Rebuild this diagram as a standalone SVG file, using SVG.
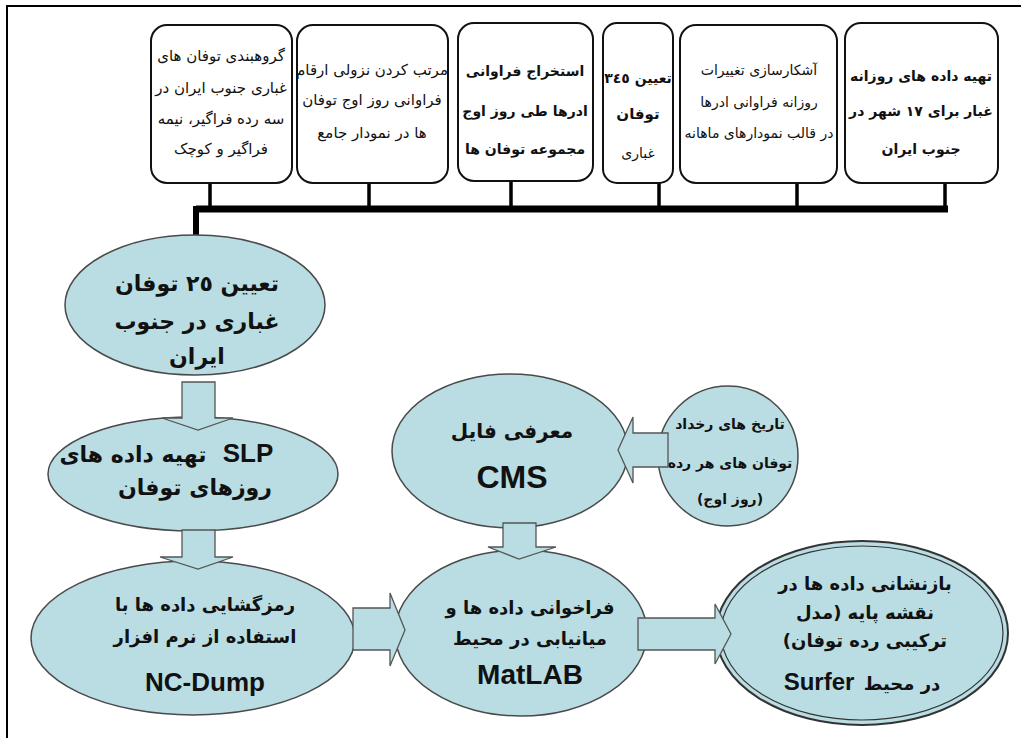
<svg xmlns="http://www.w3.org/2000/svg" width="1021" height="738" viewBox="0 0 1021 738">
<style>
.box{fill:#fff;stroke:#111;stroke-width:2}
.ell{fill:#b9dde3;stroke:#4a4a4a;stroke-width:1.5}
.arr{fill:#b9dde3;stroke:#555;stroke-width:1.3;stroke-linejoin:miter}
.fa{font-family:"DejaVu Sans",sans-serif;fill:#111;text-anchor:middle}
.bt{font-size:15px}
.bb{font-size:14px;font-weight:bold}
.big{font-size:22px;font-weight:bold}
.mid{font-size:18px;font-weight:bold}
.lat{font-family:"Liberation Sans",Arial,sans-serif;font-weight:bold;fill:#111;text-anchor:middle}
</style>
<rect x="0" y="0" width="1021" height="738" fill="#fff"/>
<path d="M7 738 V6 H1021" fill="none" stroke="#000" stroke-width="2"/>

<g id="connectors">
  <g stroke="#000" fill="none">
    <path d="M210 182 V209 M369 182 V209 M511 180 V209 M659 182 V209 M797 182 V209 M945 182 V209" stroke-width="3.5"/>
    <path d="M196 209 H948" stroke-width="7"/>
    <path d="M196 206 V236" stroke-width="6"/>
  </g>
</g>

<g id="box1"><rect class="box" x="151" y="25" width="141" height="158" rx="16"/>
<text class="fa bt" direction="rtl"><tspan x="221" y="61">گروهبندی توفان های</tspan><tspan x="221" y="93">غباری جنوب ایران در</tspan><tspan x="221" y="124">سه رده فراگیر، نیمه</tspan><tspan x="221" y="154">فراگیر و کوچک</tspan></text></g>
<g id="box2"><rect class="box" x="297" y="25" width="151" height="158" rx="16"/>
<text class="fa bt" direction="rtl"><tspan x="372" y="75">مرتب کردن نزولی ارقام</tspan><tspan x="372" y="105">فراوانی روز اوج توفان</tspan><tspan x="372" y="138">ها در نمودار جامع</tspan></text></g>
<g id="box3"><rect class="box" x="458" y="23" width="135" height="158" rx="16"/>
<text class="fa bb" direction="rtl"><tspan x="525" y="76">استخراج فراوانی</tspan><tspan x="525" y="116">ادرها طی روز اوج</tspan><tspan x="525" y="154">مجموعه توفان ها</tspan></text></g>
<g id="box4"><rect class="box" x="603" y="23" width="70" height="160" rx="14"/>
<text class="fa bb" direction="rtl"><tspan x="638" y="83">تعیین ٣٤٥</tspan><tspan x="638" y="119" style="font-size:15px">توفان</tspan><tspan x="638" y="158" style="font-weight:normal;font-size:14px">غباری</tspan></text></g>
<g id="box5"><rect class="box" x="680" y="25" width="157" height="158" rx="16"/>
<text class="fa" direction="rtl" style="font-size:14px"><tspan x="759" y="75">آشکارسازی تغییرات</tspan><tspan x="759" y="107">روزانه فراوانی ادرها</tspan><tspan x="759" y="138">در قالب نمودارهای ماهانه</tspan></text></g>
<g id="box6"><rect class="box" x="845" y="23" width="153" height="160" rx="16"/>
<text class="fa bb" direction="rtl"><tspan x="921" y="81">تهیه داده های روزانه</tspan><tspan x="921" y="116">غبار برای ١٧ شهر در</tspan><tspan x="921" y="154">جنوب ایران</tspan></text></g>

<g id="e1"><ellipse class="ell" cx="195" cy="305" rx="130" ry="70"/>
<text class="fa big" direction="rtl"><tspan x="197" y="291">تعیین ٢٥ توفان</tspan><tspan x="197" y="329">غباری  در جنوب</tspan><tspan x="197" y="364">ایران</tspan></text></g>
<g id="e2"><ellipse class="ell" cx="193" cy="474" rx="145" ry="57"/>
<text class="fa big" direction="rtl" x="133" y="462">تهیه داده های</text>
<text class="lat" x="248" y="462" font-size="26">SLP</text>
<text class="fa big" direction="rtl" x="195" y="495">روزهای توفان</text></g>
<g id="e3"><ellipse class="ell" cx="193" cy="638" rx="162" ry="77"/>
<text class="fa mid" direction="rtl"><tspan x="205" y="611">رمزگشایی داده ها با</tspan><tspan x="205" y="643">استفاده از نرم افزار</tspan></text>
<text class="lat" x="205" y="691" font-size="26">NC-Dump</text></g>
<g id="e6"><ellipse class="ell" cx="510" cy="451" rx="118" ry="77"/>
<text class="fa" direction="rtl" x="512" y="438" style="font-size:20px;font-weight:bold">معرفی فایل</text>
<text class="lat" x="512" y="488" font-size="32">CMS</text></g>
<g id="e7"><ellipse class="ell" cx="728" cy="456" rx="70" ry="70"/>
<text class="fa" direction="rtl" style="font-size:14px;font-weight:bold"><tspan x="730" y="429">تاریخ های رخداد</tspan><tspan x="730" y="468">توفان های هر رده</tspan><tspan x="730" y="504">(روز اوج)</tspan></text></g>
<g id="e4"><ellipse class="ell" cx="521" cy="633" rx="126" ry="83"/>
<text class="fa mid" direction="rtl"><tspan x="530" y="614">فراخوانی داده ها و</tspan><tspan x="530" y="645">میانیابی در محیط</tspan></text>
<text class="lat" x="530" y="684" font-size="28">MatLAB</text></g>
<g id="e5"><ellipse cx="862" cy="633" rx="146" ry="92" fill="#b9dde3" stroke="#333" stroke-width="2"/>
<ellipse cx="862" cy="633" rx="141" ry="87" fill="none" stroke="#333" stroke-width="1.2"/>
<text class="fa mid" direction="rtl"><tspan x="865" y="590">بازنشانی داده ها در</tspan><tspan x="865" y="619">نقشه پایه (مدل</tspan><tspan x="865" y="647">ترکیبی رده توفان)</tspan></text>
<text class="fa mid" direction="rtl" x="902" y="690">در محیط</text>
<text class="lat" x="819" y="690" font-size="24">Surfer</text></g>

<g id="arrows">
  <path class="arr" d="M182 382 H215 V418 H233 L198 430 L162 418 H182 Z"/>
  <path class="arr" d="M182 530 H215 V557 H233 L198 569 L160 557 H182 Z"/>
  <path class="arr" d="M503 523 H536 V547 H556 L519 559 L488 547 H503 Z"/>
  <path class="arr" d="M353 608 H390 V593 L405 630 L390 666 V650 H353 Z"/>
  <path class="arr" d="M638 618 H715 V604 L731 634 L715 664 V650 H638 Z"/>
  <path class="arr" d="M668 433 H633 V417 L618 450 L633 483 V467 H668 Z"/>
</g>
</svg>
